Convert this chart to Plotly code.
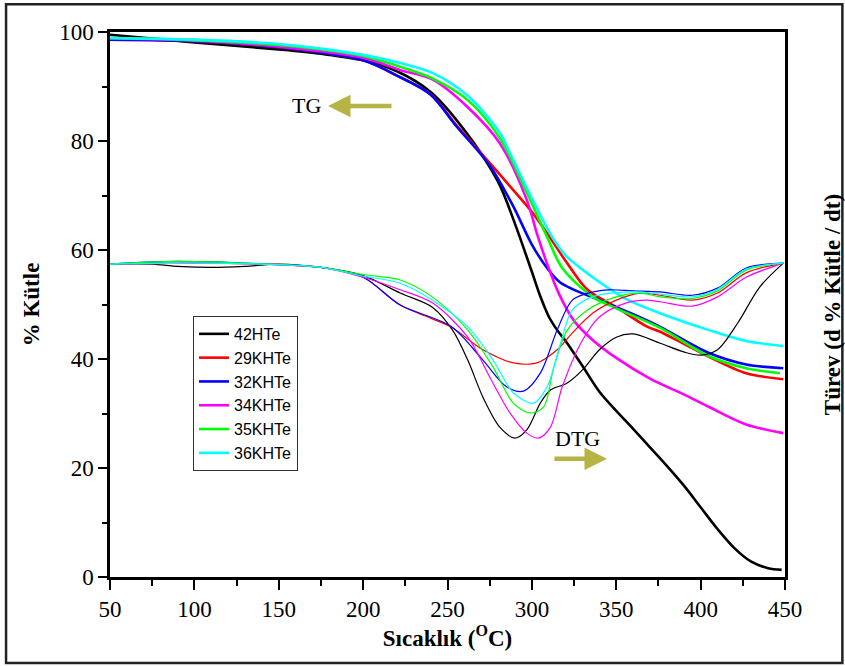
import plotly.graph_objects as go

# Sample names and line colours
names = ["42HTe", "29KHTe", "32KHTe", "34KHTe", "35KHTe", "36KHTe"]
colors = ["#000000", "#ff0000", "#0000ff", "#ff00ff", "#00ff00", "#00ffff"]

# ---- TG curves (% mass vs temperature, °C) ----
tg_42_t = [50, 100, 150, 175, 200, 220, 240, 260, 280, 290, 300, 305, 310, 315, 320, 330, 340, 350, 360, 370, 380, 390, 400, 410, 420, 430, 440, 448]
tg_42_w = [99.5, 98.1, 96.8, 96.0, 94.8, 92.8, 89.0, 82.0, 72.5, 64.8, 56.0, 51.5, 47.8, 45.3, 43.3, 38.7, 34.0, 30.5, 27.2, 23.8, 20.4, 16.8, 12.8, 8.8, 5.3, 2.8, 1.6, 1.3]

tg_29_t = [50, 100, 150, 200, 220, 240, 255, 275, 289, 300, 307, 320, 333, 350, 368, 376, 390, 405, 427, 449]
tg_29_w = [98.8, 98.3, 97.2, 94.8, 92.0, 88.6, 83.0, 76.0, 71.0, 67.0, 64.0, 58.0, 52.7, 49.5, 46.0, 45.0, 42.8, 40.4, 37.4, 36.3]

tg_32_t = [50, 100, 150, 200, 220, 240, 255, 275, 289, 300, 309, 317, 340, 360, 376, 405, 427, 449]
tg_32_w = [98.6, 98.3, 97.2, 94.8, 92.0, 88.5, 82.8, 75.5, 68.0, 61.0, 56.7, 54.0, 50.8, 48.2, 45.9, 41.1, 39.0, 38.3]

tg_34_t = [50, 100, 150, 200, 222, 241, 262, 281, 297, 303, 309, 316, 325, 336, 350, 370, 390, 405, 427, 449]
tg_34_w = [98.8, 98.4, 97.3, 95.3, 93.0, 91.3, 86.2, 79.6, 69.2, 63.0, 57.5, 52.0, 47.0, 43.5, 40.2, 36.4, 33.5, 31.2, 28.0, 26.4]

tg_35_t = [50, 100, 150, 200, 222, 241, 262, 281, 297, 309, 318, 336, 350, 376, 405, 427, 447]
tg_35_w = [98.9, 98.5, 97.6, 95.6, 93.6, 91.5, 87.5, 80.5, 70.5, 62.4, 56.7, 51.4, 49.3, 45.7, 40.5, 38.3, 37.4]

tg_36_t = [50, 100, 150, 200, 222, 241, 262, 281, 287, 300, 312, 320, 336, 356, 376, 405, 427, 449]
tg_36_w = [98.9, 98.6, 97.8, 95.8, 94.3, 92.5, 88.3, 81.5, 77.8, 69.5, 62.4, 59.0, 55.0, 51.0, 48.4, 45.3, 43.3, 42.4]

# ---- DTG curves (drawn on the derivative axis) ----
dtg_42_t = [50, 75, 90, 110, 130, 150, 175, 200, 222, 241, 253, 262, 271, 281, 290, 297, 305, 311, 321, 330, 340, 350, 360, 376, 390, 400, 410, 422, 435, 449]
dtg_42_v = [57.4, 57.4, 57.0, 56.8, 57.0, 57.4, 56.8, 55.3, 52.1, 49.5, 45.3, 39.8, 33.0, 27.5, 25.5, 27.0, 31.9, 34.3, 35.6, 38.0, 41.7, 44.0, 44.6, 42.9, 41.3, 40.7, 41.7, 46.6, 53.2, 57.6]

dtg_29_t = [50, 100, 150, 175, 200, 222, 240, 252, 271, 289, 303, 315, 324, 336, 350, 364, 376, 395, 410, 427, 449]
dtg_29_v = [57.4, 57.6, 57.3, 56.8, 55.0, 49.9, 47.5, 45.9, 41.7, 39.3, 39.3, 41.7, 44.8, 48.4, 50.8, 52.1, 51.7, 50.8, 52.1, 55.8, 57.6]

dtg_32_t = [50, 90, 150, 175, 200, 222, 252, 271, 285, 295, 305, 315, 324, 336, 346, 360, 376, 395, 410, 427, 449]
dtg_32_v = [57.4, 57.9, 57.3, 56.8, 55.0, 49.9, 46.0, 39.8, 34.9, 34.1, 37.4, 45.3, 50.8, 52.3, 52.7, 52.5, 52.3, 51.7, 53.0, 56.7, 57.6]

dtg_34_t = [50, 100, 150, 175, 200, 222, 241, 262, 275, 287, 297, 304, 311, 318, 329, 340, 356, 368, 376, 395, 410, 427, 449]
dtg_34_v = [57.4, 57.6, 57.3, 56.8, 55.0, 52.7, 50.3, 44.0, 36.7, 30.1, 26.4, 25.5, 27.5, 34.9, 42.9, 47.7, 50.3, 50.8, 50.5, 49.7, 51.4, 55.0, 57.6]

dtg_35_t = [50, 90, 150, 175, 200, 222, 241, 262, 277, 289, 299, 307, 313, 321, 333, 350, 364, 376, 395, 410, 427, 449]
dtg_35_v = [57.4, 57.9, 57.3, 56.8, 55.5, 54.5, 51.4, 45.3, 38.5, 31.9, 30.1, 31.2, 38.5, 45.3, 49.0, 51.4, 52.1, 51.4, 51.1, 52.5, 56.3, 57.6]

dtg_36_t = [50, 100, 150, 175, 200, 222, 241, 262, 277, 289, 301, 309, 317, 324, 336, 360, 376, 395, 410, 427, 449]
dtg_36_v = [57.4, 57.6, 57.3, 56.8, 55.2, 53.9, 50.8, 45.9, 39.8, 33.8, 31.9, 34.9, 42.9, 49.0, 51.4, 52.3, 51.9, 51.4, 52.8, 56.5, 57.6]

tg_series = [(tg_42_t, tg_42_w), (tg_29_t, tg_29_w), (tg_32_t, tg_32_w),
             (tg_34_t, tg_34_w), (tg_35_t, tg_35_w), (tg_36_t, tg_36_w)]
dtg_series = [(dtg_42_t, dtg_42_v), (dtg_29_t, dtg_29_v), (dtg_32_t, dtg_32_v),
              (dtg_34_t, dtg_34_v), (dtg_35_t, dtg_35_v), (dtg_36_t, dtg_36_v)]

fig = go.Figure()

for (t, v), c in zip(dtg_series, colors):
    fig.add_trace(go.Scatter(x=t, y=v, mode="lines", yaxis="y2", showlegend=False,
                             line=dict(color=c, width=1.2, shape="spline", smoothing=0.9)))

for (t, w), c, n in zip(tg_series, colors, names):
    fig.add_trace(go.Scatter(x=t, y=w, mode="lines", name=n,
                             line=dict(color=c, width=2.6, shape="spline", smoothing=0.9)))

serif = "Liberation Serif, Times New Roman, serif"
arrow_col = "#b5b445"

fig.update_layout(
    width=845, height=666,
    margin=dict(l=110, r=60, t=32, b=89, autoexpand=False),
    paper_bgcolor="white", plot_bgcolor="white",
    font=dict(family=serif, size=22, color="black"),
    xaxis=dict(range=[50, 450], tickvals=[50, 100, 150, 200, 250, 300, 350, 400, 450],
               ticks="outside", ticklen=10, tickwidth=2, tickcolor="black",
               minor=dict(dtick=25, tick0=50, ticks="outside", ticklen=6, tickwidth=2, tickcolor="black"),
               showline=True, linewidth=2.5, linecolor="black", mirror=True,
               showgrid=False, zeroline=False, automargin=False,
               tickfont=dict(family=serif, size=23),
               title=dict(text="<b>Sıcaklık (<sup>O</sup>C)</b>", font=dict(family=serif, size=23), standoff=6)),
    yaxis=dict(range=[0, 100], tickvals=[0, 20, 40, 60, 80, 100],
               ticks="outside", ticklen=9, tickwidth=2, tickcolor="black",
               minor=dict(dtick=10, tick0=0, ticks="outside", ticklen=5, tickwidth=2, tickcolor="black"),
               showline=True, linewidth=2.5, linecolor="black", mirror=True,
               showgrid=False, zeroline=False, automargin=False,
               tickfont=dict(family=serif, size=23),
               title=dict(text="<b>% Kütle</b>", font=dict(family=serif, size=23), standoff=14)),
    yaxis2=dict(range=[0, 100], overlaying="y", side="right", showticklabels=False,
                ticks="", showgrid=False, zeroline=False, showline=False, automargin=False,
                title=dict(text="<b>Türev (d % Kütle / dt)</b>", font=dict(family=serif, size=23), standoff=38)),
    legend=dict(x=0.123, y=0.479, xanchor="left", yanchor="top",
                bgcolor="white", bordercolor="#333333", borderwidth=1,
                font=dict(family="Liberation Sans, Arial, sans-serif", size=16),
                tracegroupgap=0, itemwidth=30),
    shapes=[dict(type="rect", xref="paper", yref="paper",
                 x0=-0.154, x1=1.085, y0=-0.158, y1=1.051,
                 line=dict(color="#222222", width=2.5))],
    annotations=[
        dict(x=179.2, y=86.4, ax=217.7, ay=86.4, xref="x", yref="y", axref="x", ayref="y",
             showarrow=True, arrowhead=2, arrowsize=1, arrowwidth=4.5, arrowcolor=arrow_col, text=""),
        dict(x=166.7, y=86.6, xref="x", yref="y", text="TG", showarrow=False,
             font=dict(family=serif, size=22, color="black")),
        dict(x=344.5, y=21.7, ax=312.5, ay=21.7, xref="x", yref="y", axref="x", ayref="y",
             showarrow=True, arrowhead=2, arrowsize=1, arrowwidth=4.5, arrowcolor=arrow_col, text=""),
        dict(x=327.3, y=25.5, xref="x", yref="y", text="DTG", showarrow=False,
             font=dict(family=serif, size=22, color="black")),
    ],
)

fig.write_html("out.html")
